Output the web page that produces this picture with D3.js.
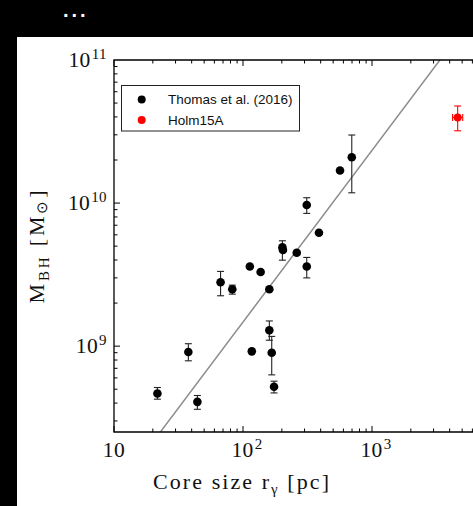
<!DOCTYPE html>
<html><head><meta charset="utf-8">
<script src="https://cdn.jsdelivr.net/npm/d3@7/dist/d3.min.js"></script>
<style>body{margin:0;background:#000}svg{display:block}</style>
</head><body><svg id="c" width="473" height="506"></svg>
<script>
// Thomas et al. (2016): core size r_gamma [pc], M_BH [Msun], errors (lo, hi)
const coreSize = [21.7, 37.7, 44.3, 67, 82.6, 113, 117, 137, 160, 160, 167, 174, 202, 204, 261, 312, 312, 388, 565, 697];
const mbh      = [4.67e8, 9.1e8, 4.08e8, 2.8e9, 2.5e9, 3.6e9, 9.2e8, 3.3e9, 2.5e9, 1.29e9, 9.0e8, 5.2e8, 4.9e9, 4.7e9, 4.5e9, 3.6e9, 9.7e9, 6.2e9, 1.69e10, 2.09e10];
const mbhLo    = [4.26e8, 7.9e8, 3.62e8, 2.25e9, 2.31e9, null, null, null, null, 1.1e9, 6.3e8, 4.71e8, 3.99e9, null, 4.35e9, 3.0e9, 8.47e9, null, null, 1.18e10];
const mbhHi    = [5.14e8, 1.04e9, 4.52e8, 3.33e9, 2.67e9, null, null, null, null, 1.5e9, 1.17e9, 5.69e8, 5.45e9, null, 4.65e9, 4.17e9, 1.09e10, null, null, 2.99e10];
// Holm 15A
const holmR = [4615], holmRLo = [4215], holmRHi = [5050];
const holmM = [3.97e10], holmMLo = [3.2e10], holmMHi = [4.77e10];
// fitted relation (endpoints)
const fitR = [10, 10000];
const fitM = [9.3e7, 3.7e11];
const legendLabels = ["Thomas et al. (2016)", "Holm15A"];
const xTickVals = [10, 100, 1000];
const yTickVals = [1e9, 1e10, 1e11];

const svg = d3.select("#c");
svg.append("rect").attr("x",17).attr("y",37).attr("width",456).attr("height",469).attr("fill","#fff");
svg.append("text").attr("x",63).attr("y",17).attr("fill","#fff").attr("font-family","Liberation Sans").attr("font-weight","bold").attr("font-size",20).attr("letter-spacing",3).text("...");

const L=114, R=501, T=60, B=432;
const x = d3.scaleLog().domain([10,10000]).range([L,R]);
const y = d3.scaleLog().domain([Math.pow(10,8.4),1e11]).range([B,T]);

svg.append("defs").append("clipPath").attr("id","clip").append("rect").attr("x",L).attr("y",T).attr("width",R-L).attr("height",B-T);
const plot = svg.append("g").attr("clip-path","url(#clip)");

// fit line
plot.append("line").attr("x1",x(fitR[0])).attr("y1",y(fitM[0])).attr("x2",x(fitR[1])).attr("y2",y(fitM[1]))
  .attr("stroke","#8c8c8c").attr("stroke-width",1.5);

// ticks
const serif = "Liberation Serif";
const xMinor = [], yMinor = [];
for (let d=10; d<10000; d*=10) for (let k=1;k<10;k++) xMinor.push(k*d);
for (let d=1e8; d<1e11; d*=10) for (let k=1;k<10;k++) { const v=k*d; if (v>=y.domain()[0]) yMinor.push(v); }
const tk = svg.append("g").attr("stroke","#000").attr("stroke-width",1);
xMinor.forEach(v=>{
  const major = xTickVals.includes(v) || v===10000;
  const len = major?6:3.5, px = x(v);
  tk.append("line").attr("x1",px).attr("x2",px).attr("y1",B).attr("y2",B-len);
  tk.append("line").attr("x1",px).attr("x2",px).attr("y1",T).attr("y2",T+len);
});
yMinor.forEach(v=>{
  const major = yTickVals.includes(v);
  const len = major?6:3.5, py = y(v);
  tk.append("line").attr("x1",L).attr("x2",L+len).attr("y1",py).attr("y2",py);
});

// error bars & points
const eb = plot.append("g").attr("stroke","#222").attr("stroke-width",1.1);
coreSize.forEach((r,i)=>{
  if (mbhLo[i]!=null) {
    const px=x(r);
    eb.append("line").attr("x1",px).attr("x2",px).attr("y1",y(mbhLo[i])).attr("y2",y(mbhHi[i]));
    [mbhLo[i],mbhHi[i]].forEach(v=>eb.append("line").attr("x1",px-3.5).attr("x2",px+3.5).attr("y1",y(v)).attr("y2",y(v)));
  }
});
plot.append("g").selectAll("circle").data(coreSize).join("circle")
  .attr("cx",d=>x(d)).attr("cy",(d,i)=>y(mbh[i])).attr("r",4.3).attr("fill","#000");

const rb = plot.append("g").attr("stroke","#f00").attr("stroke-width",1.1);
holmR.forEach((r,i)=>{
  const px=x(r), py=y(holmM[i]);
  rb.append("line").attr("x1",px).attr("x2",px).attr("y1",y(holmMLo[i])).attr("y2",y(holmMHi[i]));
  [holmMLo[i],holmMHi[i]].forEach(v=>rb.append("line").attr("x1",px-3.5).attr("x2",px+3.5).attr("y1",y(v)).attr("y2",y(v)));
  rb.append("line").attr("x1",x(holmRLo[i])).attr("x2",x(holmRHi[i])).attr("y1",py).attr("y2",py);
  [holmRLo[i],holmRHi[i]].forEach(v=>rb.append("line").attr("x1",x(v)).attr("x2",x(v)).attr("y1",py-3.5).attr("y2",py+3.5));
  plot.append("circle").attr("cx",px).attr("cy",py).attr("r",4).attr("fill","#f00");
});

// frame
svg.append("path").attr("d",`M${R},${T}H${L}V${B}H${R}`).attr("fill","none").attr("stroke","#000").attr("stroke-width",1.3);

// tick labels
function powLabel(g, px, py, exp, anchor) {
  const t = g.append("text").attr("font-family",serif).attr("fill","#111").attr("x",px).attr("y",py).attr("text-anchor",anchor).attr("font-size",21.5).attr("letter-spacing",0.4);
  if (exp===1) { t.text("10"); return; }
  t.append("tspan").text("10");
  t.append("tspan").attr("font-size",15).attr("dx",1).attr("dy",-8.5).text(exp);
}
const lab = svg.append("g");
xTickVals.forEach(v=>powLabel(lab, x(v)+(v===10?0:4), 457, Math.round(Math.log10(v)), "middle"));
yTickVals.forEach(v=>powLabel(lab, 107, y(v)+7, Math.round(Math.log10(v)), "end"));

// axis titles
const xt = svg.append("text").attr("font-family",serif).attr("font-size",22).attr("fill","#111").attr("x",153).attr("y",489)
  .attr("textLength",176).attr("lengthAdjust","spacing");
xt.append("tspan").text("Core size r");
xt.append("tspan").attr("font-size",15).attr("dy",5).text("γ");
xt.append("tspan").attr("dy",-5).text(" [pc]");
const yt = svg.append("text").attr("font-family",serif).attr("font-size",22).attr("fill","#111")
  .attr("transform","translate(44,247) rotate(-90)").attr("text-anchor","middle")
  .attr("textLength",113).attr("lengthAdjust","spacing");
yt.append("tspan").text("M");
yt.append("tspan").attr("font-size",15).attr("dy",5).text("BH");
yt.append("tspan").attr("dy",-5).text(" [M");
yt.append("tspan").attr("font-size",15).attr("dy",3).text("⊙");
yt.append("tspan").attr("dy",-3).text("]");

// legend
const lg = svg.append("g");
lg.append("rect").attr("x",121.5).attr("y",85.5).attr("width",178).attr("height",45.5).attr("fill","#fff").attr("stroke","#222").attr("stroke-width",1);
const lc = ["#000","#f00"];
legendLabels.forEach((s,i)=>{
  const cy = 99.5 + i*20.5;
  lg.append("circle").attr("cx",141.7).attr("cy",cy).attr("r",4).attr("fill",lc[i]);
  lg.append("text").attr("x",168).attr("y",cy+4.8).attr("font-family","Liberation Sans").attr("font-size",13.5).attr("fill","#111").text(s);
});
</script></body></html>
